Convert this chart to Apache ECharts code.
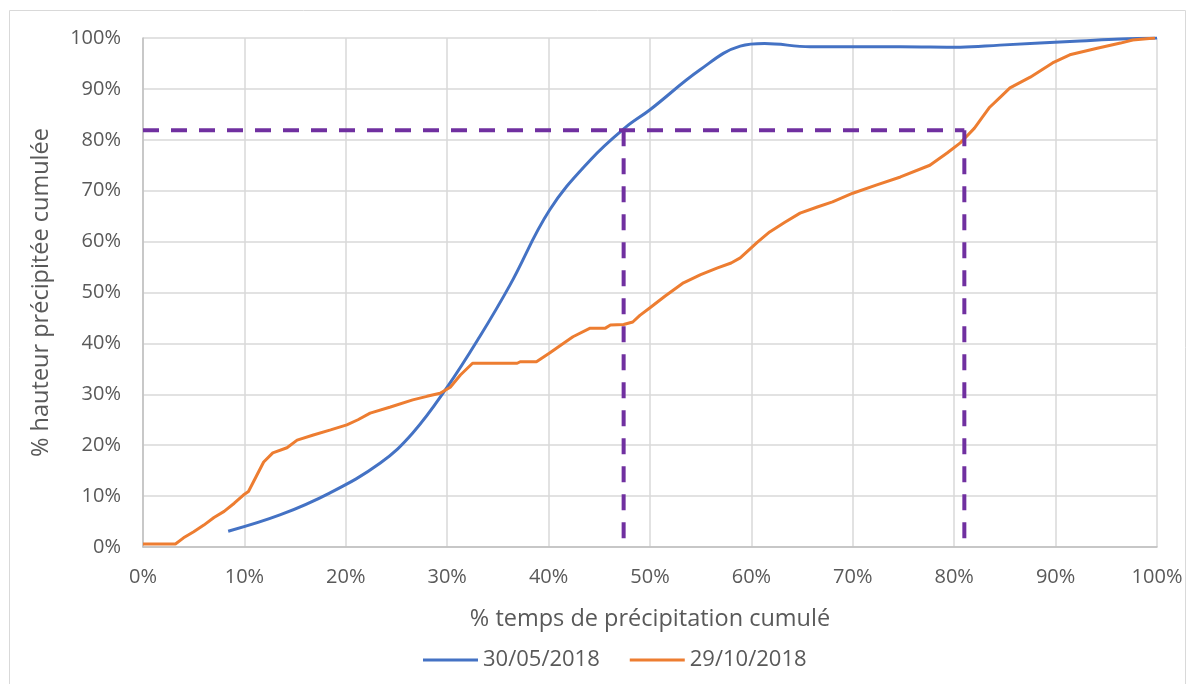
<!DOCTYPE html>
<html><head><meta charset="utf-8">
<script src="https://cdn.jsdelivr.net/npm/echarts@6/dist/echarts.min.js"></script>
<style>html,body{margin:0;padding:0;background:#fff}#c{width:1186px;height:684px}</style>
</head><body><div id="c"></div>
<script>
const xTicks = [0,10,20,30,40,50,60,70,80,90,100];
const seriesNames = ['30/05/2018','29/10/2018'];
const blueData = [[8.4,3.1],[13.5,6.3],[18.4,10.6],[23.4,16.5],[26.6,22.4],[30.0,31.4],[33.2,41.3],[36.2,51.5],[40.1,66.2],[44.1,76.0],[47.5,82.3],[50.0,85.9],[54.9,93.7],[58.9,98.4],[61.3,98.9],[65.8,98.3],[74.7,98.3],[80.6,98.2],[84.5,98.6],[92.4,99.4],[96.4,99.8],[100,100]];
const orangeData = [[0,0.6],[3.2,0.6],[4.0,1.8],[5.0,3.0],[6.0,4.3],[7.0,5.8],[8.0,7.0],[9.0,8.6],[9.9,10.2],[10.4,10.9],[11.2,14.0],[11.9,16.7],[12.8,18.5],[14.2,19.5],[15.2,21.0],[16.8,22.0],[18.5,23.0],[20.1,24.0],[21.2,25.0],[22.4,26.3],[24.4,27.5],[26.6,28.9],[28.0,29.6],[29.3,30.2],[30.3,31.4],[31.3,33.8],[32.5,36.1],[36.9,36.1],[37.2,36.4],[38.8,36.4],[40.1,38.1],[41.3,39.8],[42.4,41.3],[44.1,43.0],[45.6,43.0],[46.1,43.6],[47.4,43.7],[48.3,44.2],[49.0,45.5],[50.0,47.0],[51.5,49.3],[53.3,51.9],[55.0,53.5],[56.6,54.8],[58.0,55.8],[58.9,56.8],[60.6,59.9],[61.8,61.9],[63.3,63.8],[64.8,65.6],[66.5,66.8],[68.0,67.8],[70.0,69.5],[72.3,71.1],[74.7,72.7],[77.6,75.0],[79.3,77.4],[80.6,79.4],[81.0,80.2],[82.0,82.3],[82.8,84.5],[83.5,86.4],[84.5,88.3],[85.5,90.2],[87.5,92.3],[89.7,95.1],[91.4,96.7],[94.1,98.0],[96.4,99.0],[97.6,99.6],[99.8,100]];
const refH = [[0,81.9],[81.0,81.9]];
const refV1 = [[47.4,81.9],[47.4,0]];
const refV2 = [[81.0,81.9],[81.0,0]];

const chart = echarts.init(document.getElementById('c'));
const font = '"Open Sans", Lato, sans-serif';
const dashStyle = {color:'#7030A0', width:4, type:[16,12], cap:'butt'};
chart.setOption({
  animation:false,
  textStyle:{fontFamily:font},
  graphic:[{type:'rect',shape:{x:9.5,y:10.5,width:1176,height:680},style:{fill:'none',stroke:'#D9D9D9',lineWidth:1}}],
  grid:{left:143,right:29,top:38,bottom:137,containLabel:false},
  legend:{data:seriesNames,bottom:8,left:418,itemWidth:55,itemHeight:3,icon:'rect',itemGap:30,
    textStyle:{fontSize:22,color:'#595959',fontFamily:font}},
  xAxis:{type:'value',min:0,max:100,interval:10,
    name:'% temps de précipitation cumulé',nameLocation:'middle',nameGap:60,
    nameTextStyle:{fontSize:23.5,color:'#595959',fontFamily:font},
    axisLine:{show:true,lineStyle:{color:'#BFBFBF',width:1.5}},axisTick:{show:false},
    axisLabel:{formatter:'{value}%',fontSize:20,color:'#595959',margin:20,fontFamily:font},
    splitLine:{show:true,lineStyle:{color:'#D9D9D9',width:1.5}}},
  yAxis:{type:'value',min:0,max:100,interval:10,
    name:'% hauteur précipitée cumulée',nameLocation:'middle',nameGap:90,nameRotate:90,
    nameTextStyle:{fontSize:23.5,color:'#595959',fontFamily:font},
    axisLine:{show:true,lineStyle:{color:'#BFBFBF',width:1.5}},axisTick:{show:false},
    axisLabel:{formatter:'{value}%',fontSize:20,color:'#595959',margin:22,fontFamily:font},
    splitLine:{show:true,lineStyle:{color:'#D9D9D9',width:1.5}}},
  series:[
    {name:seriesNames[0],type:'line',data:blueData,smooth:0.4,showSymbol:false,symbol:'none',
      lineStyle:{color:'#4472C4',width:3},itemStyle:{color:'#4472C4'},z:3},
    {name:seriesNames[1],type:'line',data:orangeData,smooth:false,showSymbol:false,symbol:'none',
      lineStyle:{color:'#ED7D31',width:3},itemStyle:{color:'#ED7D31'},z:4},
    {type:'line',data:refH,symbol:'none',lineStyle:dashStyle,z:5,silent:true},
    {type:'line',data:refV1,symbol:'none',lineStyle:dashStyle,z:5,silent:true},
    {type:'line',data:refV2,symbol:'none',lineStyle:dashStyle,z:5,silent:true}
  ]
});
</script></body></html>
